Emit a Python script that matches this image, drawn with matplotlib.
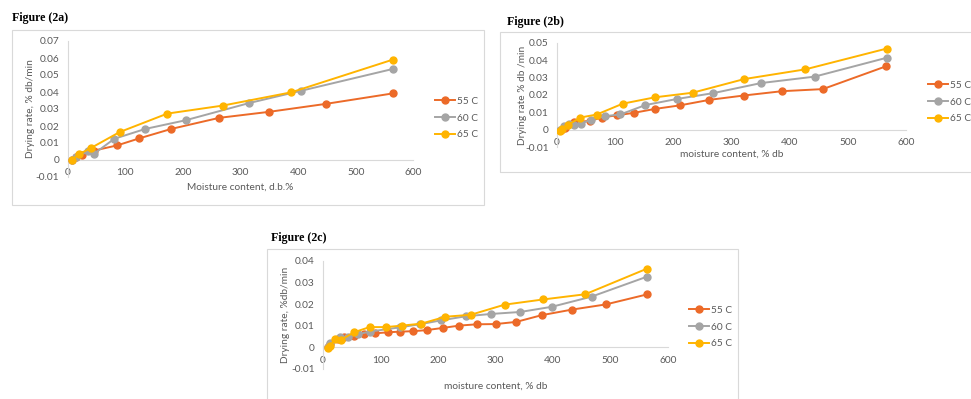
import matplotlib
matplotlib.use("Agg")
import matplotlib.pyplot as plt
from matplotlib.patches import Rectangle

plt.rcParams['font.family'] = ['Lato', 'DejaVu Sans']

labels = ["55 C", "60 C", "65 C"]
colors = ["#EC6A28", "#A5A5A5", "#FFB400"]

# Figure (2a)
a_x55 = [8, 15, 25, 45, 86, 124, 180, 263, 349, 448, 565]
a_y55 = [0.0, 0.0015, 0.003, 0.0055, 0.0086, 0.0127, 0.0183, 0.0248, 0.0283, 0.033, 0.0392]
a_x60 = [8, 15, 35, 45, 81, 135, 205, 315, 405, 565]
a_y60 = [0.0, 0.002, 0.005, 0.0035, 0.0125, 0.0183, 0.0234, 0.0335, 0.0407, 0.0536]
a_x65 = [7, 20, 40, 90, 173, 269, 388, 565]
a_y65 = [0.0, 0.0035, 0.007, 0.0164, 0.0273, 0.032, 0.0398, 0.0591]

# Figure (2b)
b_x55 = [7, 14, 30, 56, 77, 103, 132, 169, 211, 262, 321, 387, 457, 566]
b_y55 = [0.0, 0.001, 0.0045, 0.005, 0.007, 0.0083, 0.0097, 0.012, 0.014, 0.0172, 0.0197, 0.0222, 0.0234, 0.0366]
b_x60 = [6, 12, 20, 29, 42, 58, 83, 109, 152, 206, 269, 351, 443, 567]
b_y60 = [0.0, 0.002, 0.0035, 0.0025, 0.0035, 0.0058, 0.0078, 0.0088, 0.0142, 0.0177, 0.0211, 0.0269, 0.0306, 0.0415]
b_x65 = [6, 9, 19, 40, 68, 113, 169, 233, 322, 427, 567]
b_y65 = [-0.0005, 0.0003, 0.0028, 0.007, 0.0087, 0.015, 0.0187, 0.0213, 0.0292, 0.0348, 0.0468]

# Figure (2c)
c_x55 = [9, 13, 26, 37, 54, 71, 91, 113, 134, 157, 180, 208, 237, 268, 300, 336, 380, 433, 492, 563]
c_y55 = [0.0004, 0.0016, 0.004, 0.005, 0.0054, 0.006, 0.0065, 0.007, 0.0073, 0.0075, 0.008, 0.009, 0.0101, 0.0107, 0.0108, 0.0118, 0.0149, 0.0175, 0.0199, 0.0245]
c_x60 = [9, 13, 29, 44, 61, 81, 134, 168, 205, 248, 293, 343, 398, 467, 563]
c_y60 = [0.0004, 0.0019, 0.0046, 0.005, 0.0061, 0.0073, 0.0093, 0.0107, 0.0125, 0.0144, 0.0155, 0.0164, 0.0188, 0.0235, 0.0327]
c_x65 = [9, 12, 21, 32, 54, 81, 109, 138, 171, 213, 257, 316, 383, 456, 563]
c_y65 = [-0.0003, 0.0007, 0.0037, 0.0036, 0.007, 0.0094, 0.0094, 0.0101, 0.011, 0.0142, 0.0151, 0.0198, 0.0222, 0.0246, 0.0364]

W, H = 971, 399
fig = plt.figure(figsize=(W / 100, H / 100), dpi=100)


def fx(px):
    return px / W


def fy(py):
    return 1 - py / H


# Excel style panel
def draw_panel(rect, series, ymax, yticks, xlabel, ylabel, legend_pos, xlab_y, ylab_x):
    ax = fig.add_axes(rect)
    for (x, y), lab, col in zip(series, labels, colors):
        ax.plot(x, y, color=col, lw=1.4, marker='o', ms=5, label=lab, zorder=3)
    ax.set_xlim(0, 600)
    ax.set_ylim(-0.01, ymax)
    ax.set_xticks(range(0, 601, 100))
    ax.set_yticks(yticks)
    ax.set_yticklabels([("0" if t == 0 else f"{t:g}") for t in yticks])
    for s in ['top', 'right']:
        ax.spines[s].set_visible(False)
    ax.spines['bottom'].set_position(('data', 0))
    ax.spines['bottom'].set_color('#D9D9D9')
    ax.spines['left'].set_color('#D9D9D9')
    ax.tick_params(length=0, labelsize=7.3, labelcolor='#595959', pad=6)
    ax.patch.set_alpha(0)
    ax.set_xlabel(xlabel, fontsize=7.3, color='#595959')
    ax.xaxis.set_label_coords(0.5, xlab_y)
    ax.set_ylabel(ylabel, fontsize=7.3, color='#595959')
    ax.yaxis.set_label_coords(ylab_x, 0.5)
    ax.legend(loc='center left', bbox_to_anchor=legend_pos, bbox_transform=fig.transFigure,
              frameon=False, fontsize=7.3, labelcolor='#595959', handlelength=2.0,
              handletextpad=0.2, labelspacing=0.75, borderpad=0, borderaxespad=0)
    return ax


# frames round the three charts
for x0, y0, x1, y1 in [(12, 30, 484, 205), (500, 32, 980, 172), (267, 249, 738, 405)]:
    fig.add_artist(Rectangle((fx(x0), fy(y1)), fx(x1 - x0), (y1 - y0) / H,
                             transform=fig.transFigure, fill=False, ec='#D9D9D9', lw=0.8))

draw_panel([fx(67.7), fy(177), fx(413.3 - 67.7), (177 - 41) / H],
           [(a_x55, a_y55), (a_x60, a_y60), (a_x65, a_y65)],
           0.07, [-0.01, 0, 0.01, 0.02, 0.03, 0.04, 0.05, 0.06, 0.07],
           "Moisture content, d.b.%", "Drying rate, % db/min", (fx(435), fy(118)), -0.045, -0.095)

draw_panel([fx(557), fy(147), fx(906 - 557), (147 - 43) / H],
           [(b_x55, b_y55), (b_x60, b_y60), (b_x65, b_y65)],
           0.05, [-0.01, 0, 0.01, 0.02, 0.03, 0.04, 0.05],
           "moisture content, % db", "Drying rate % db /min", (fx(928), fy(102)), -0.03, -0.086)

draw_panel([fx(323), fy(369), fx(668 - 323), (369 - 261) / H],
           [(c_x55, c_y55), (c_x60, c_y60), (c_x65, c_y65)],
           0.04, [-0.01, 0, 0.01, 0.02, 0.03, 0.04],
           "moisture content, % db", "Drying rate, %db/min", (fx(689), fy(327)), -0.12, -0.096)

title_kw = dict(fontsize=8.6, fontweight='bold', family='Liberation Serif', va='center', ha='left')
fig.text(fx(12), fy(18), "Figure (2a)", **title_kw)
fig.text(fx(507), fy(22), "Figure (2b)", **title_kw)
fig.text(fx(271), fy(238), "Figure (2c)", **title_kw)

fig.savefig("out.png", dpi=100)
